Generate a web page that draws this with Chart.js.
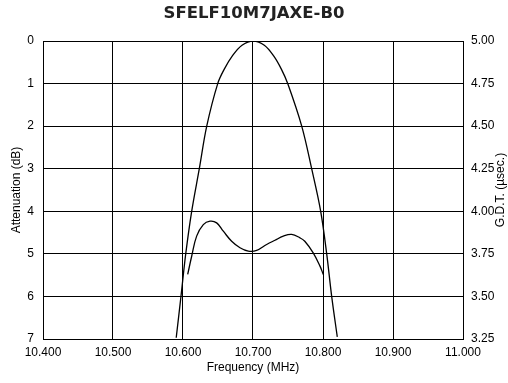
<!DOCTYPE html>
<html>
<head>
<meta charset="utf-8">
<script src="https://cdn.jsdelivr.net/npm/chart.js@4.4.0/dist/chart.umd.min.js"></script>
<style>
    html, body { margin: 0; padding: 0; background: #fff; }
    #wrap { width: 508px; height: 383px; }
</style>
</head>
<body>
<div id="wrap"><canvas id="filterChart"></canvas></div>
<script>
// Attenuation curve (left axis, dB)
const attenFreq = [10.5903, 10.5971, 10.6039, 10.6124, 10.6233, 10.6339, 10.6496, 10.6590, 10.6705,
                   10.6843, 10.7004, 10.7162, 10.7295, 10.7405, 10.7496, 10.7696, 10.7838, 10.7967,
                   10.8053, 10.8124, 10.8204];
const attenDb = [6.97, 6.00, 5.00, 4.00, 3.00, 2.00, 1.00, 0.66, 0.35,
                 0.10, 0.00, 0.10, 0.35, 0.66, 1.00, 2.00, 3.00, 4.00,
                 5.00, 6.00, 6.95];

// Group delay curve (right axis, usec)
const gdtFreq = [10.6067, 10.6124, 10.6195, 10.6290, 10.6386, 10.6481, 10.6576, 10.6695, 10.6814,
                 10.6933, 10.7052, 10.7195, 10.7314, 10.7433, 10.7552, 10.7671, 10.7740, 10.7860,
                 10.7957, 10.8004];
const gdtUs = [3.629, 3.736, 3.854, 3.922, 3.942, 3.932, 3.883, 3.824, 3.786,
               3.766, 3.770, 3.805, 3.830, 3.854, 3.864, 3.844, 3.824, 3.756,
               3.678, 3.629];

const freqTicks = [10.4, 10.5, 10.6, 10.7, 10.8, 10.9, 11.0];
const attenTicks = [0, 1, 2, 3, 4, 5, 6, 7];
const gdtTicks = [3.25, 3.5, 3.75, 4.0, 4.25, 4.5, 4.75, 5.0];

const CHART_LEFT = 43, CHART_RIGHT = 463, CHART_TOP = 41, CHART_BOTTOM = 339;
const W = 508, H = 383;
const tickFont = { family: '"Liberation Sans", Arial, sans-serif', size: 12 };

function toPoints(xs, ys) {
    return xs.map(function(x, i) { return { x: x, y: ys[i] }; });
}

// right axis title reads bottom-to-top in the reference
const rightTitlePlugin = {
    id: 'rightTitle',
    afterDraw: function(chart) {
        const ctx = chart.ctx;
        const area = chart.chartArea;
        ctx.save();
        ctx.translate(501, (area.top + area.bottom) / 2);
        ctx.rotate(-Math.PI / 2);
        ctx.font = '12px "Liberation Sans", Arial, sans-serif';
        ctx.fillStyle = '#000';
        ctx.textAlign = 'center';
        ctx.textBaseline = 'middle';
        ctx.fillText('G.D.T. (µsec.)', 0, 0);
        ctx.restore();
    }
};

new Chart(document.getElementById('filterChart'), {
    type: 'line',
    data: {
        datasets: [{
            label: 'Attenuation',
            data: toPoints(attenFreq, attenDb),
            yAxisID: 'y',
            borderColor: '#000',
            borderWidth: 1.3,
            pointRadius: 0,
            fill: false,
            tension: 0.35
        }, {
            label: 'G.D.T.',
            data: toPoints(gdtFreq, gdtUs),
            yAxisID: 'y2',
            borderColor: '#000',
            borderWidth: 1.3,
            pointRadius: 0,
            fill: false,
            tension: 0.4
        }]
    },
    options: {
        responsive: true,
        maintainAspectRatio: false,
        animation: false,
        layout: { padding: 0 },
        plugins: {
            legend: { display: false },
            tooltip: { enabled: false },
            title: {
                display: true,
                text: 'SFELF10M7JAXE-B0',
                color: '#222',
                font: { family: '"DejaVu Sans", sans-serif', size: 16.5, weight: 'bold', lineHeight: 1.2 },
                padding: { top: 4, bottom: CHART_TOP - 4 - 16.5 * 1.2 }
            }
        },
        scales: {
            x: {
                type: 'linear',
                min: 10.4,
                max: 11.0,
                afterBuildTicks: function(scale) {
                    scale.ticks = freqTicks.map(function(v) { return { value: v }; });
                },
                ticks: {
                    color: '#000',
                    font: tickFont,
                    padding: 6,
                    maxRotation: 0,
                    autoSkip: false,
                    callback: function(v) { return Number(v).toFixed(3); }
                },
                grid: { color: '#000', lineWidth: 1, drawTicks: false },
                border: { color: '#000', width: 1 },
                title: {
                    display: true,
                    text: 'Frequency (MHz)',
                    color: '#000',
                    font: tickFont,
                    padding: { top: 0, bottom: 8 }
                },
                afterFit: function(scale) { scale.height = H - CHART_BOTTOM; }
            },
            y: {
                position: 'left',
                reverse: true,
                min: 0,
                max: 7,
                afterBuildTicks: function(scale) {
                    scale.ticks = attenTicks.map(function(v) { return { value: v }; });
                },
                ticks: {
                    color: '#000',
                    font: tickFont,
                    padding: 9,
                    autoSkip: false
                },
                grid: { color: '#000', lineWidth: 1, drawTicks: false },
                border: { color: '#000', width: 1 },
                title: {
                    display: true,
                    text: 'Attenuation (dB)',
                    color: '#000',
                    font: tickFont,
                    padding: { top: 9, bottom: 0 }
                },
                afterFit: function(scale) { scale.width = CHART_LEFT; }
            },
            y2: {
                position: 'right',
                min: 3.25,
                max: 5.0,
                afterBuildTicks: function(scale) {
                    scale.ticks = gdtTicks.map(function(v) { return { value: v }; });
                },
                ticks: {
                    color: '#000',
                    font: tickFont,
                    padding: 8,
                    autoSkip: false,
                    callback: function(v) { return Number(v).toFixed(2); }
                },
                grid: { display: false, drawTicks: false },
                border: { color: '#000', width: 1 },
                afterFit: function(scale) { scale.width = W - CHART_RIGHT; }
            }
        }
    },
    plugins: [rightTitlePlugin]
});
</script>
</body>
</html>
